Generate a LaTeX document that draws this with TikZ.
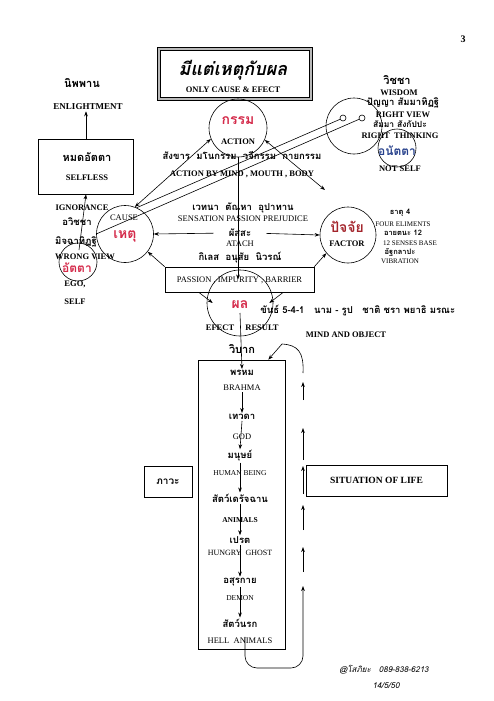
\documentclass[tikz,border=0pt]{standalone}
\usepackage{fontspec}
\setmainfont{Liberation Serif}
\newfontfamily\thaifont[Script=Thai]{Loma}
\usetikzlibrary{arrows.meta}

\begin{document}
\begin{tikzpicture}[x=1pt,y=-1pt,line width=.6pt,>={Stealth[length=5pt,width=3.6pt]}]
  \definecolor{kammared}{HTML}{D42A4A}
  \definecolor{factorred}{HTML}{A3242B}
  \definecolor{anattablue}{HTML}{27418C}
  \useasboundingbox (0,0) rectangle (493,701);
  \tikzset{
    enbold/.style={font=\fontsize{8.5}{9}\selectfont\bfseries,inner sep=1pt},
    enplain/.style={font=\fontsize{8.5}{9}\selectfont,inner sep=1pt},
    elem/.style={font=\fontsize{7}{8}\selectfont,inner sep=.5pt},
    thai/.style={font=\thaifont\bfseries\fontsize{9.5}{10}\selectfont,inner sep=1pt},
    thaismall/.style={font=\thaifont\bfseries\fontsize{7.5}{8}\selectfont,inner sep=.5pt},
    keyword/.style={font=\thaifont\bfseries\fontsize{14}{15}\selectfont,text=kammared,inner sep=0pt},
    ring/.style={draw,circle,inner sep=0pt},
    boxed/.style={draw,inner sep=0pt}
  }

  % title and page number
  \node[boxed,double=gray!55,double distance=2.4pt,line width=.7pt,
        minimum width=152pt,minimum height=50pt] (title) at (235,74) {};
  \node[font=\thaifont\bfseries\itshape\fontsize{18}{19}\selectfont] (titleTh) at (233,70) {มีแต่เหตุกับผล};
  \node[enbold] (titleEn) at (233,90) {ONLY CAUSE \& EFECT};
  \node[font=\fontsize{10}{11}\selectfont\bfseries] (pageNo) at (463,39) {3};

  % selfless side
  \node[thai,font=\thaifont\bfseries\fontsize{11}{12}\selectfont] (nibbana) at (82,83) {นิพพาน};
  \node[enbold,font=\fontsize{9}{10}\selectfont\bfseries] (enlight) at (88,107) {ENLIGHTMENT};
  \node[boxed,minimum width=95pt,minimum height=55pt] (selfless) at (86,166.5) {};
  \node[thai,font=\thaifont\bfseries\fontsize{11}{12}\selectfont] (selflessTh) at (87,157) {หมดอัตตา};
  \node[enbold] (selflessEn) at (87,178) {SELFLESS};

  \node[ring,minimum size=38pt] (atta) at (78,262) {};
  \node[enbold] (ignorance) at (82,208) {IGNORANCE};
  \node[thai] (avijja) at (77,222) {อวิชชา};
  \node[thai] (miccha) at (76,242) {มิจฉาทิฏฐิ};
  \node[enbold] (wrongView) at (85,257) {WRONG VIEW};
  \node[keyword,font=\thaifont\bfseries\fontsize{12}{13}\selectfont] (attaTh) at (77,268) {อัตตา};
  \node[enbold] (ego) at (75,284) {EGO,};
  \node[enbold] (self) at (75,302) {SELF};

  % cause, action, factor, effect
  \node[ring,minimum size=57pt] (cause) at (125,234) {};
  \node[enplain] (causeEn) at (124,218) {CAUSE};
  \node[keyword] (causeTh) at (125,236) {เหตุ};

  \node[ring,minimum size=58pt] (action) at (238,128) {};
  \node[keyword] (actionTh) at (238,121) {กรรม};
  \node[enbold] (actionEn) at (238,142) {ACTION};
  \node[thai] (sankhara) at (242,155) {สังขาร\ \ มโนกรรม\ \ วจีกรรม\ \ กายกรรม};
  \node[enbold] (actionBy) at (242,174) {ACTION BY MIND , MOUTH , BODY};

  \node[thai] (vedana) at (243,208) {เวทนา\ \ ตัณหา\ \ อุปาทาน};
  \node[enplain] (sensation) at (243,219) {SENSATION\ PASSION\ PREJUDICE};
  \node[thai] (phassa) at (240,233) {ผัสสะ};
  \node[enplain] (atach) at (240,244) {ATACH};
  \node[thai] (kilesa) at (240,258) {กิเลส\ \ อนุสัย\ \ นิวรณ์};

  \node[ring,minimum size=56pt] (factor) at (348,235) {};
  \node[keyword,text=factorred] (factorTh) at (347,227) {ปัจจัย};
  \node[enbold] (factorEn) at (347,244) {FACTOR};
  \node[thaismall] (dhatu) at (400,213) {ธาตุ 4};
  \node[elem] (fourEl) at (403,224) {FOUR ELIMENTS};
  \node[thaismall] (ayatana) at (403,233) {อายตนะ 12};
  \node[elem] (senses) at (410,243) {12 SENSES BASE};
  \node[thaismall] (kalapa) at (400,252) {อัฐกลาปะ};
  \node[elem] (vibration) at (400,261) {VIBRATION};

  \node[boxed,minimum width=149pt,minimum height=25pt] (passion) at (239.5,279.5) {};
  \node[enplain] (passionEn) at (239.5,280) {PASSION , IMPURITY , BARRIER};

  \node[ring,minimum size=66pt] (effect) at (240,303) {};
  \node[keyword] (effectTh) at (240,305) {ผล};
  \node[enbold] (effectEn) at (220,328) {EFECT};
  \node[enbold] (resultEn) at (262,328) {RESULT};
  \node[thai,font=\thaifont\bfseries\fontsize{11}{12}\selectfont] (vipaka) at (242,349) {วิบาก};
  \node[thai,anchor=west] (khandha) at (259,310) {ขันธ์ 5-4-1\ \ \ นาม - รูป\ \ \ ชาติ\ ชรา\ พยาธิ\ มรณะ};
  \node[enbold] (mindObj) at (346,335) {MIND AND OBJECT};

  % wisdom face
  \node[ring,minimum size=56pt] (wisdom) at (354,126) {};
  \node[ring,minimum size=6pt] (eyeL) at (343,118) {};
  \node[ring,minimum size=6pt] (eyeR) at (362,118) {};
  \node[ring,minimum size=38pt] (anatta) at (397,148) {};
  \node[thai,font=\thaifont\bfseries\fontsize{11}{12}\selectfont] (vijja) at (397,80) {วิชชา};
  \node[enbold] (wisdomEn) at (399,93) {WISDOM};
  \node[thai] (panna) at (403,103) {ปัญญา\ สัมมาทิฏฐิ};
  \node[enbold] (rightView) at (403,115) {RIGHT VIEW};
  \node[thai,font=\thaifont\bfseries\fontsize{8.5}{9}\selectfont] (sankappa) at (400,124.5) {สัมมา\ สังกัปปะ};
  \node[enbold] (rightThink) at (400,135.5) {RIGHT\ \ THINKING};
  \node[keyword,text=anattablue,font=\thaifont\bfseries\fontsize{12}{13}\selectfont] (anattaTh) at (397,151) {อนัตตา};
  \node[enbold] (notSelf) at (400,169) {NOT SELF};

  % realms of life
  \node[boxed,minimum width=87pt,minimum height=289pt] (realms) at (241.5,504.5) {};
  \node[thai] (brahma) at (242,373) {พรหม};
  \node[enplain] (brahmaEn) at (242,388) {BRAHMA};
  \node[thai] (deva) at (242,417) {เทวดา};
  \node[enplain] (devaEn) at (242,437) {GOD};
  \node[thai] (manus) at (240,456) {มนุษย์};
  \node[elem,font=\fontsize{7.5}{8}\selectfont] (manusEn) at (240,473) {HUMAN BEING};
  \node[thai] (tiracchan) at (240,498) {สัตว์เดรัจฉาน};
  \node[elem,font=\fontsize{7.5}{8}\selectfont\bfseries] (tiracchanEn) at (240,520) {ANIMALS};
  \node[thai] (peta) at (240,540) {เปรต};
  \node[enplain,font=\fontsize{8}{9}\selectfont] (petaEn) at (240,553) {HUNGRY\ \ GHOST};
  \node[thai] (asura) at (240,582) {อสุรกาย};
  \node[elem,font=\fontsize{7.5}{8}\selectfont] (asuraEn) at (240,598) {DEMON};
  \node[thai] (naraka) at (240,623) {สัตว์นรก};
  \node[enplain] (narakaEn) at (240,641) {HELL\ \ ANIMALS};

  \node[boxed,minimum width=48pt,minimum height=31pt,font=\thaifont\bfseries\fontsize{10}{11}\selectfont] (bhava) at (168,482) {ภาวะ};
  \node[boxed,minimum width=141pt,minimum height=31pt,font=\fontsize{9.5}{10}\selectfont\bfseries] (situation) at (376.5,480.5) {SITUATION OF LIFE};

  \node[font=\thaifont\itshape\fontsize{8}{9}\selectfont] (sign) at (384,670) {@โสภิยะ\quad 089-838-6213};
  \node[font=\thaifont\itshape\fontsize{8}{9}\selectfont] (date) at (386,686) {14/5/50};

  % connectors
  \draw[->] (selfless.north) -- (selfless.north |- enlight.south);
  \coordinate (attaIn) at (79,250);
  \draw[->] (attaIn) -- (selfless.south);
  \draw[<->] (cause.70) -- (action.202);
  \coordinate (actTip) at (325,190);
  \draw[<->] (action.336) -- (actTip);
  \draw (cause.66) -- (eyeL);
  \draw (cause.west) -- (eyeR);
  \draw[->,shorten <=14pt] (phassa.west) -- (cause.east);
  \draw[->,shorten <=14pt] (phassa.east) -- (factor.west);
  \draw[->] (passion.north west) -- (cause.-38);
  \draw[->] (passion.north east) -- (factor.220);
  \draw[->] ([xshift=34pt]passion.south west) -- ([xshift=6pt]effect.west);
  \draw[->] ([xshift=-31pt]passion.south east) -- ([xshift=-4pt]effect.east);
  \draw[->] (action.south) -- (action.south |- passion.center);
  \draw[->] ([yshift=-10pt]effect.center) -- (brahma.north);

  \draw[->] (brahmaEn.south) -- (deva.north);
  \draw[->] (deva.south) -- (manus.north);
  \draw[->] (manus.south) -- (tiracchan.north);
  \draw[->] (tiracchan.south) -- (peta.north);
  \draw[->] (peta.south) -- (asura.north);
  \draw[->] (asura.south) -- (naraka.north);

  % way back up
  \coordinate (loopCorner) at (303,668);
  \coordinate (loopUp) at (303,586);
  \draw[->,rounded corners=12pt] ([xshift=5pt]narakaEn.north) |- (loopCorner) -- (loopUp);
  \foreach \lo/\hi [count=\k] in {572/547,530/505,494/466,460/428,400/382}{
    \coordinate (upLo\k) at (303,\lo);
    \coordinate (upHi\k) at (303,\hi);
    \draw[->] (upLo\k) -- (upHi\k);
  }
  \coordinate (hookLo) at (303,373);
  \coordinate (hookTop) at (282,344);
  \draw[->] (hookLo) .. controls (304,352) and (298,345) .. (hookTop) -- ([xshift=-17pt]realms.north east);
\end{tikzpicture}
\end{document}
